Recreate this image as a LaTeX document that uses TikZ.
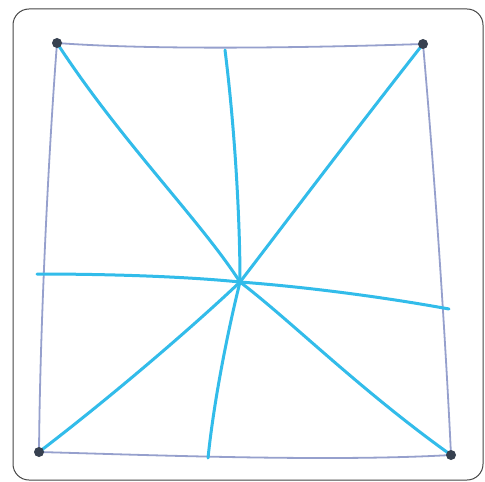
\documentclass[tikz,border=0pt]{standalone}
\definecolor{cyanline}{RGB}{50,188,234}
\definecolor{pencil}{RGB}{150,160,205}
\definecolor{dotc}{RGB}{55,65,80}
\definecolor{cardline}{RGB}{70,70,70}
\begin{document}
\begin{tikzpicture}[x=1bp,y=-1bp,
  edge/.style={draw=pencil,line width=1.8bp,line cap=round},
  ray/.style={draw=cyanline,line width=3bp,line cap=round},
  corner/.style={circle,fill=dotc,inner sep=0pt,minimum size=10bp},
  pt/.style={inner sep=0pt,minimum size=0pt}]
\useasboundingbox (0,0) rectangle (485,482);
\fill[white] (0,0) rectangle (485,482);
\draw[cardline,line width=1bp,rounded corners=16bp] (13,9) -- (483,9) -- (483,480) -- (13,480) -- cycle;
% corners and side points
\node[pt] (c) at (240,282) {};
\coordinate (tl) at (57,43);
\coordinate (tr) at (423,44);
\coordinate (bl) at (39,452);
\coordinate (br) at (451,455);
\coordinate (tm) at (225,50);
\coordinate (bm) at (208,458);
\coordinate (lm) at (37,274);
\coordinate (rm) at (449,309);
% square
\draw[edge] (tl) .. controls (150,50) and (300,48) .. (tr);
\draw[edge] (tr) .. controls (435,180) and (445,330) .. (br);
\draw[edge] (br) .. controls (330,462) and (150,455) .. (bl);
\draw[edge] (bl) .. controls (40,330) and (48,160) .. (tl);
% rays
\draw[ray] (tl) .. controls (120,140) and (200,220) .. (c);
\draw[ray] (tr) .. controls (340,150) and (280,230) .. (c);
\draw[ray] (bl) .. controls (120,390) and (200,320) .. (c);
\draw[ray] (br) .. controls (360,390) and (290,320) .. (c);
\draw[ray] (tm) .. controls (235,130) and (240,220) .. (c);
\draw[ray] (c) .. controls (228,330) and (214,400) .. (bm);
\draw[ray] (lm) .. controls (100,274) and (180,276) .. (c);
\draw[ray] (c) .. controls (320,288) and (400,300) .. (rm);
% corner dots
\node[corner] (ntl) at (tl) {};
\node[corner] (ntr) at (tr) {};
\node[corner] (nbl) at (bl) {};
\node[corner] (nbr) at (br) {};
\end{tikzpicture}
\end{document}
